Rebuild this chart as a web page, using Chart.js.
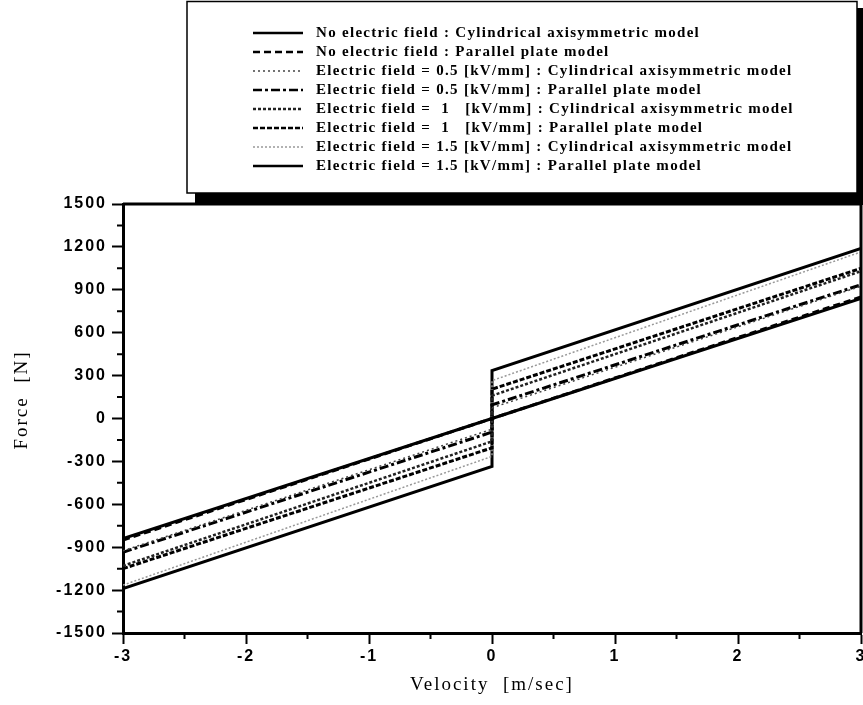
<!DOCTYPE html>
<html>
<head>
<meta charset="utf-8">
<title>Force vs Velocity</title>
<style>
  html, body { margin: 0; padding: 0; background: #fff; }
  #wrap { width: 863px; height: 705px; position: relative; }
</style>
<script src="https://cdn.jsdelivr.net/npm/chart.js@4.4.1/dist/chart.umd.min.js"></script>
</head>
<body>
<div id="wrap"><canvas id="forceChart"></canvas></div>
<script>
// Velocity points: the field cases jump at v = 0, so 0 appears twice
const velocity = [-3, 0, 0, 3];

// Force [N]
const noFieldCyl   = [-840, 0, 0, 840];
const noFieldPlate = [-850, 0, 0, 850];
const e05Cyl       = [-925, -75, 75, 925];
const e05Plate     = [-935, -95, 95, 935];
const e1Cyl        = [-1030, -160, 160, 1030];
const e1Plate      = [-1050, -205, 205, 1050];
const e15Cyl       = [-1165, -265, 265, 1165];
const e15Plate     = [-1190, -335, 335, 1190];

const seriesLabels = [
    'No electric field : Cylindrical axisymmetric model',
    'No electric field : Parallel plate model',
    'Electric field = 0.5 [kV/mm] : Cylindrical axisymmetric model',
    'Electric field = 0.5 [kV/mm] : Parallel plate model',
    'Electric field =  1   [kV/mm] : Cylindrical axisymmetric model',
    'Electric field =  1   [kV/mm] : Parallel plate model',
    'Electric field = 1.5 [kV/mm] : Cylindrical axisymmetric model',
    'Electric field = 1.5 [kV/mm] : Parallel plate model'
];

// Axis ticks
const xTicks = [-3, -2, -1, 0, 1, 2, 3];
const xMinor = [-2.5, -1.5, -0.5, 0.5, 1.5, 2.5];
const yTicks = [-1500, -1200, -900, -600, -300, 0, 300, 600, 900, 1200, 1500];
const yMinor = [-1350, -1050, -750, -450, -150, 150, 450, 750, 1050, 1350];

function toPoints(values) {
    return velocity.map((v, i) => ({ x: v, y: values[i] }));
}

const styles = [
    { color: '#000', width: 3,   dash: [] },
    { color: '#000', width: 3,   dash: [7, 4] },
    { color: '#444', width: 1.5, dash: [2, 3] },
    { color: '#000', width: 3,   dash: [9, 3, 3, 3] },
    { color: '#222', width: 2.5, dash: [3, 2] },
    { color: '#000', width: 3,   dash: [5, 2] },
    { color: '#999', width: 1.5, dash: [2, 2] },
    { color: '#000', width: 3,   dash: [] }
];

const allSeries = [noFieldCyl, noFieldPlate, e05Cyl, e05Plate, e1Cyl, e1Plate, e15Cyl, e15Plate];

const datasets = allSeries.map((s, i) => ({
    label: seriesLabels[i],
    data: toPoints(s),
    borderColor: styles[i].color,
    borderWidth: styles[i].width,
    borderDash: styles[i].dash,
    pointRadius: 0,
    tension: 0,
    fill: false
}));

// Minor ticks, frame, boxed legend and y title
const paperPlugin = {
    id: 'paper',
    beforeDraw(chart) {
        chart.ctx.letterSpacing = '2px';
    },
    afterDraw(chart) {
        const ctx = chart.ctx;
        const xs = chart.scales.x, ys = chart.scales.y;
        const area = chart.chartArea;
        ctx.save();
        ctx.strokeStyle = '#000';
        ctx.lineWidth = 2;
        ctx.beginPath();
        xMinor.forEach(v => {
            const px = xs.getPixelForValue(v);
            ctx.moveTo(px, area.bottom);
            ctx.lineTo(px, area.bottom + 6);
        });
        yMinor.forEach(v => {
            const py = ys.getPixelForValue(v);
            ctx.moveTo(area.left - 6, py);
            ctx.lineTo(area.left, py);
        });
        ctx.stroke();

        // frame top and right
        ctx.lineWidth = 3;
        ctx.beginPath();
        ctx.moveTo(area.left, area.top);
        ctx.lineTo(area.right, area.top);
        ctx.lineTo(area.right, area.bottom);
        ctx.stroke();

        // legend box with shadow
        ctx.fillStyle = '#000';
        ctx.fillRect(857, 8, 6, 197);
        ctx.fillRect(195, 193, 668, 12);
        ctx.fillStyle = '#fff';
        ctx.fillRect(187, 1, 670, 192);
        ctx.lineWidth = 1.5;
        ctx.strokeRect(187, 1.5, 670, 191.5);

        ctx.letterSpacing = '1.3px';
        ctx.font = 'bold 15px "Liberation Serif", serif';
        ctx.textBaseline = 'middle';
        ctx.textAlign = 'left';
        chart.data.datasets.forEach((ds, i) => {
            const y = 33 + 19 * i;
            ctx.strokeStyle = ds.borderColor;
            ctx.lineWidth = Math.min(ds.borderWidth, 2.5);
            ctx.setLineDash(ds.borderDash);
            ctx.beginPath();
            ctx.moveTo(253, y);
            ctx.lineTo(303, y);
            ctx.stroke();
            ctx.setLineDash([]);
            ctx.fillStyle = '#000';
            ctx.fillText(ds.label, 316, y);
        });

        // y axis title
        ctx.letterSpacing = '2px';
        ctx.font = '19px "Liberation Serif", serif';
        ctx.textAlign = 'center';
        ctx.translate(22, 400);
        ctx.rotate(-Math.PI / 2);
        ctx.fillText('Force  [N]', 0, 0);
        ctx.restore();
    }
};

const tickFont = { family: '"Liberation Sans", Arial, sans-serif', weight: 'bold', size: 16 };

new Chart(document.getElementById('forceChart'), {
    type: 'line',
    data: { datasets: datasets },
    options: {
        responsive: true,
        maintainAspectRatio: false,
        animation: false,
        devicePixelRatio: 1,
        layout: { padding: { top: 204, right: 2, left: 0, bottom: 0 } },
        plugins: {
            legend: { display: false },
            tooltip: { enabled: false }
        },
        scales: {
            x: {
                type: 'linear',
                min: -3,
                max: 3,
                afterBuildTicks: s => { s.ticks = xTicks.map(v => ({ value: v })); },
                afterFit: s => { s.height = 72; s.paddingLeft = 0; s.paddingRight = 0; },
                ticks: {
                    color: '#000',
                    font: tickFont,
                    padding: 3,
                    maxRotation: 0,
                    autoSkip: false,
                    callback: v => String(v)
                },
                grid: {
                    drawOnChartArea: false,
                    drawTicks: true,
                    tickLength: 11,
                    tickWidth: 2,
                    tickColor: '#000'
                },
                border: { color: '#000', width: 3 },
                title: {
                    display: true,
                    text: 'Velocity  [m/sec]',
                    color: '#000',
                    font: { family: '"Liberation Serif", serif', size: 19 },
                    padding: { top: 4, bottom: 9 }
                }
            },
            y: {
                min: -1500,
                max: 1500,
                afterBuildTicks: s => { s.ticks = yTicks.map(v => ({ value: v })); },
                afterFit: s => { s.width = 123; s.paddingTop = 0; s.paddingBottom = 0; },
                ticks: {
                    color: '#000',
                    font: tickFont,
                    padding: 5,
                    autoSkip: false,
                    callback: v => String(v)
                },
                grid: {
                    drawOnChartArea: false,
                    drawTicks: true,
                    tickLength: 11,
                    tickWidth: 2,
                    tickColor: '#000'
                },
                border: { color: '#000', width: 3 }
            }
        }
    },
    plugins: [paperPlugin]
});
</script>
</body>
</html>
